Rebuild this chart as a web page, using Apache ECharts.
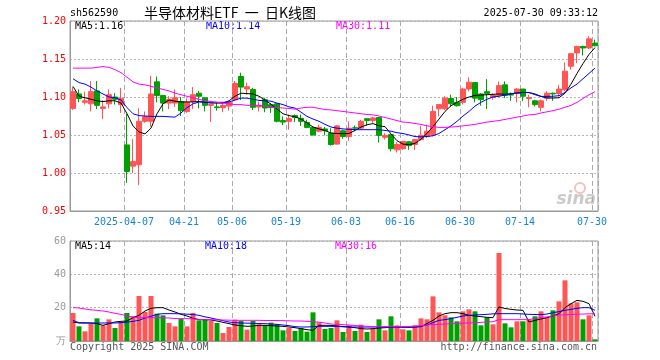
<!DOCTYPE html>
<html><head><meta charset="utf-8">
<script src="https://cdn.jsdelivr.net/npm/echarts@6/dist/echarts.min.js"></script>
<style>html,body{margin:0;padding:0;background:#fff}#c{width:660px;height:360px}</style>
</head><body><div id="c"></div>
<script>
const dates = [
'2025-03-24','2025-03-25','2025-03-26','2025-03-27','2025-03-28','2025-03-31',
'2025-04-01','2025-04-02','2025-04-03','2025-04-07','2025-04-08','2025-04-09','2025-04-10','2025-04-11',
'2025-04-14','2025-04-15','2025-04-16','2025-04-17','2025-04-18','2025-04-21','2025-04-22','2025-04-23',
'2025-04-24','2025-04-25','2025-04-28','2025-04-29','2025-04-30','2025-05-06','2025-05-07','2025-05-08',
'2025-05-09','2025-05-12','2025-05-13','2025-05-14','2025-05-15','2025-05-16','2025-05-19','2025-05-20',
'2025-05-21','2025-05-22','2025-05-23','2025-05-26','2025-05-27','2025-05-28','2025-05-29','2025-05-30',
'2025-06-03','2025-06-04','2025-06-05','2025-06-06','2025-06-09','2025-06-10','2025-06-11','2025-06-12',
'2025-06-13','2025-06-16','2025-06-17','2025-06-18','2025-06-19','2025-06-20','2025-06-23','2025-06-24',
'2025-06-25','2025-06-26','2025-06-27','2025-06-30','2025-07-01','2025-07-02','2025-07-03','2025-07-04',
'2025-07-07','2025-07-08','2025-07-09','2025-07-10','2025-07-11','2025-07-14','2025-07-15','2025-07-16',
'2025-07-17','2025-07-18','2025-07-21','2025-07-22','2025-07-23','2025-07-24','2025-07-25','2025-07-28',
'2025-07-29','2025-07-30'];

const open = [1.085,1.104,1.093,1.091,1.108,1.085,1.091,1.100,1.090,1.037,1.009,1.011,1.068,1.068,
1.120,1.102,1.092,1.092,1.094,1.081,1.094,1.105,1.099,1.089,1.087,1.086,1.088,1.0965,1.127,1.1105,
1.110,1.087,1.0965,1.090,1.091,1.069,1.068,1.0755,1.072,1.0665,1.060,1.055,1.058,1.0525,1.038,1.0555,
1.048,1.0595,1.059,1.0715,1.069,1.073,1.047,1.0505,1.0305,1.032,1.041,1.0375,1.044,1.048,1.0505,1.0845,
1.0845,1.098,1.093,1.093,1.1105,1.119,1.104,1.107,1.0995,1.102,1.116,1.1035,1.1045,1.1105,1.098,1.095,
1.0865,1.0985,1.105,1.1045,1.1095,1.1405,1.158,1.1665,1.1645,1.171];
const close = [1.107,1.098,1.095,1.107,1.089,1.087,1.103,1.097,1.098,1.002,1.015,1.068,1.074,1.104,
1.102,1.092,1.097,1.099,1.082,1.093,1.103,1.101,1.089,1.090,1.086,1.089,1.093,1.118,1.113,1.1135,
1.0865,1.088,1.0855,1.086,1.068,1.067,1.0715,1.073,1.068,1.060,1.050,1.060,1.0555,1.0375,1.062,1.048,
1.059,1.059,1.068,1.069,1.0725,1.0495,1.0495,1.032,1.0375,1.0415,1.036,1.044,1.0495,1.055,1.081,1.090,
1.0985,1.091,1.0885,1.1105,1.1195,1.0985,1.0965,1.1045,1.1025,1.115,1.102,1.1025,1.1105,1.101,1.099,1.090,
1.095,1.105,1.104,1.1105,1.134,1.157,1.1665,1.1645,1.1765,1.1675];
const low = [1.083,1.093,1.090,1.081,1.084,1.071,1.085,1.090,1.079,0.987,1.000,0.984,1.066,1.061,
1.093,1.081,1.084,1.087,1.075,1.079,1.084,1.085,1.081,1.067,1.082,1.080,1.082,1.095,1.096,1.103,
1.083,1.081,1.080,1.079,1.0665,1.063,1.057,1.067,1.062,1.059,1.0495,1.0535,1.0495,1.036,1.0375,1.045,
1.0425,1.055,1.057,1.062,1.066,1.040,1.044,1.0285,1.027,1.0305,1.0305,1.0305,1.0425,1.046,1.048,1.0745,
1.083,1.0875,1.0875,1.090,1.1075,1.093,1.0885,1.084,1.0965,1.0995,1.0985,1.095,1.093,1.0945,1.0865,1.0875,
1.081,1.095,1.095,1.101,1.1075,1.136,1.1445,1.1545,1.163,1.1665];
const high = [1.113,1.110,1.107,1.121,1.121,1.096,1.110,1.105,1.112,1.078,1.045,1.085,1.081,1.128,
1.127,1.102,1.101,1.110,1.100,1.098,1.113,1.108,1.099,1.090,1.092,1.092,1.094,1.121,1.132,1.119,
1.112,1.094,1.099,1.092,1.092,1.0745,1.077,1.077,1.077,1.070,1.061,1.0635,1.0605,1.059,1.063,1.057,
1.068,1.0625,1.070,1.0715,1.074,1.073,1.0525,1.0515,1.0405,1.0425,1.0415,1.045,1.0615,1.0635,1.0885,1.090,
1.101,1.103,1.100,1.112,1.126,1.119,1.105,1.1235,1.105,1.1205,1.1205,1.106,1.1115,1.1105,1.103,1.0965,
1.0965,1.1075,1.106,1.116,1.1455,1.157,1.1675,1.1675,1.180,1.1755];

const volume = [16.8,8.8,5.8,10.4,13.6,9.4,13.0,7.8,11.4,16.8,14.8,27.0,17.4,27.0,16.4,15.4,10.8,8.8,
13.4,8.8,16.8,12.4,12.8,12.0,10.8,4.8,8.4,12.8,12.0,6.8,12.0,10.0,9.4,11.0,10.0,6.4,7.8,6.0,7.8,5.6,
17.2,11.2,7.2,7.8,12.4,5.4,9.4,6.0,9.8,5.4,7.4,13.0,6.4,14.8,9.4,7.0,6.4,9.4,13.6,13.0,26.8,17.2,15.4,
14.2,11.8,17.8,19.0,17.8,9.4,14.2,10.0,52.8,10.6,8.2,11.8,11.8,13.0,14.8,17.8,14.2,18.4,23.8,36.4,22.6,
23.2,13.0,15.4,1.0];

const ma5 = [1.114,1.101,1.099,1.097,1.095,1.094,1.095,1.095,1.092,1.078,1.062,1.054,1.0515,1.059,1.078,
1.091,1.096,1.0945,1.0935,1.0935,1.0935,1.094,1.093,1.092,1.092,1.092,1.095,1.101,1.105,1.1045,1.104,
1.101,1.096,1.0905,1.084,1.078,1.0755,1.074,1.071,1.066,1.0605,1.058,1.056,1.0525,1.052,1.0517,1.052,
1.056,1.0605,1.0635,1.065,1.062,1.061,1.0515,1.0425,1.038,1.0373,1.039,1.0445,1.052,1.061,1.071,1.081,
1.0885,1.093,1.097,1.100,1.102,1.1025,1.103,1.1035,1.104,1.1035,1.1045,1.1053,1.106,1.1058,1.104,1.1008,
1.0987,1.0987,1.099,1.105,1.117,1.131,1.144,1.156,1.165];
const ma10 = [1.124,1.119,1.117,1.113,1.108,1.104,1.100,1.099,1.096,1.086,1.078,1.0755,1.075,1.0745,
1.0745,1.0745,1.074,1.0735,1.079,1.086,1.091,1.0935,1.093,1.093,1.093,1.093,1.0935,1.096,1.0985,1.0985,
1.097,1.0955,1.095,1.0945,1.092,1.090,1.087,1.0855,1.080,1.0745,1.071,1.068,1.064,1.0605,1.059,1.058,
1.0575,1.057,1.057,1.057,1.057,1.057,1.056,1.055,1.053,1.052,1.050,1.048,1.0475,1.048,1.049,1.052,1.057,
1.062,1.068,1.075,1.081,1.088,1.093,1.097,1.100,1.101,1.1025,1.104,1.1053,1.106,1.106,1.103,1.1008,
1.1008,1.101,1.1017,1.106,1.112,1.117,1.124,1.131,1.138];
const ma30 = [1.138,1.138,1.138,1.138,1.139,1.140,1.139,1.136,1.132,1.126,1.120,1.117,1.116,1.114,1.112,
1.110,1.108,1.105,1.103,1.101,1.099,1.097,1.095,1.094,1.093,1.092,1.091,1.090,1.090,1.089,1.089,1.089,
1.088,1.087,1.086,1.0855,1.085,1.084,1.0855,1.0865,1.0865,1.085,1.0835,1.083,1.082,1.081,1.080,1.079,
1.078,1.077,1.0765,1.075,1.073,1.071,1.069,1.067,1.0665,1.065,1.064,1.062,1.061,1.060,1.060,1.0605,
1.061,1.062,1.063,1.064,1.0655,1.067,1.068,1.069,1.0705,1.072,1.0735,1.075,1.0765,1.077,1.079,1.0805,
1.082,1.084,1.0865,1.089,1.093,1.098,1.103,1.107];

const volMa5 = [11.4,10.8,10.8,10.8,10.4,9.4,10.4,11.4,11.8,12.0,14.0,15.4,18.0,19.6,20.0,20.0,18.6,17.4,
16.0,15.0,13.6,12.8,12.8,12.6,12.0,11.2,10.4,9.6,9.2,8.8,9.0,9.4,9.4,9.2,9.0,8.8,8.4,8.0,7.4,6.8,6.4,
9.4,9.4,9.4,9.0,8.6,8.4,8.0,7.4,7.2,7.4,7.8,8.0,8.4,8.4,8.2,8.2,8.4,8.6,10.5,12.4,15.0,16.4,17.0,17.0,
16.4,15.4,15.0,14.6,14.2,14.0,20.4,19.5,19.0,18.6,18.4,11.4,12.4,13.2,14.0,15.0,16.4,20.0,22.4,24.4,
23.8,22.4,14.8];
const volMa10 = [12.4,11.0,10.9,10.8,10.8,10.8,10.8,10.8,11.0,11.3,11.8,12.4,13.8,14.8,16.0,16.4,16.4,
16.4,16.3,16.1,15.9,15.4,14.5,13.8,13.0,12.2,11.4,11.0,10.8,10.7,10.6,10.5,10.4,10.2,10.0,9.6,9.2,8.6,
8.4,8.4,8.6,8.8,8.8,8.8,8.7,8.6,8.4,8.4,8.4,8.4,8.4,8.4,8.4,8.4,8.4,8.4,8.4,8.4,8.8,9.6,11.0,12.4,12.8,
13.4,14.2,15.0,15.4,15.6,15.8,16.0,16.3,16.4,16.4,16.4,16.4,16.2,16.0,15.9,15.8,16.2,17.0,17.6,18.4,
19.0,19.6,20.0,20.0,18.4];
const volMa30 = [20.0,19.8,19.2,18.7,18.4,18.0,17.4,16.6,16.0,14.9,14.4,14.0,14.0,14.0,14.0,13.9,13.8,
13.5,13.4,13.4,13.3,13.0,12.8,12.8,12.7,12.6,12.5,12.4,12.4,12.4,12.4,12.4,12.3,12.3,12.3,12.2,12.1,
12.0,12.0,11.8,11.6,11.3,10.8,10.2,10.0,9.8,9.6,9.3,9.0,8.8,8.6,8.6,8.6,8.6,8.6,8.6,8.7,8.9,9.2,9.6,
9.8,10.0,10.2,10.4,10.6,10.7,10.8,11.0,11.2,11.4,11.6,12.8,12.8,12.8,12.8,12.8,12.8,13.6,14.0,14.5,
15.0,15.6,15.7,15.9,16.1,16.2,16.3,16.4];

const labelDates = ['2025-04-07','2025-04-21','2025-05-06','2025-05-19','2025-06-03','2025-06-16','2025-06-30','2025-07-14','2025-07-30'];

const UP = '#ff5555', DOWN = '#00a000';
const MONO = '"DejaVu Sans Mono", "Liberation Mono", monospace';
const kData = dates.map((d, i) => [open[i], close[i], low[i], high[i]]);
const volData = volume.map((v, i) => ({ value: v, itemStyle: { color: close[i] >= open[i] ? UP : DOWN } }));
const showTick = (idx, val) => labelDates.indexOf(val) >= 0;

const chart = echarts.init(document.getElementById('c'), null, { renderer: 'canvas' });
const dashV = { show: true, interval: showTick, lineStyle: { color: '#aaaaaa', type: [5, 3], width: 1 } };
const dotH = { show: true, lineStyle: { color: '#b4b4b4', type: [2, 2], width: 1 } };

chart.setOption({
  animation: false,
  backgroundColor: '#ffffff',
  grid: [
    { left: 70, top: 21, width: 528, height: 190, show: true, borderColor: '#999', borderWidth: 1 },
    { left: 70, top: 241, width: 528, height: 100, show: true, borderColor: '#999', borderWidth: 1 }
  ],
  xAxis: [
    { type: 'category', gridIndex: 0, data: dates, boundaryGap: true,
      axisLine: { lineStyle: { color: '#999' } }, axisTick: { show: false },
      axisLabel: { interval: showTick, color: '#1a84d4', fontFamily: MONO, fontSize: 10, margin: 6,
        padding: [0, 6, 0, 0],
        formatter: v => v === '2025-04-07' ? v : v.slice(5) },
      splitLine: dashV },
    { type: 'category', gridIndex: 1, data: dates, boundaryGap: true,
      axisLine: { lineStyle: { color: '#999' } }, axisTick: { show: false },
      axisLabel: { show: false }, splitLine: dashV }
  ],
  yAxis: [
    { type: 'value', gridIndex: 0, min: 0.95, max: 1.20, interval: 0.05,
      axisLine: { show: true, lineStyle: { color: '#999' } }, axisTick: { show: false },
      axisLabel: { color: '#ff0000', fontFamily: MONO, fontSize: 10, margin: 4, formatter: v => v.toFixed(2) },
      splitLine: dotH },
    { type: 'value', gridIndex: 1, min: 0, max: 60, interval: 20,
      axisLine: { show: true, lineStyle: { color: '#999' } }, axisTick: { show: false },
      axisLabel: { color: '#999999', fontFamily: MONO, fontSize: 10, margin: 4,
        formatter: v => v === 0 ? '万' : String(v) },
      splitLine: dotH }
  ],
  series: [
    { type: 'candlestick', xAxisIndex: 0, yAxisIndex: 0, data: kData, barWidth: 5,
      itemStyle: { color: UP, color0: DOWN, borderColor: UP, borderColor0: DOWN, borderWidth: 1 } },
    { type: 'line', xAxisIndex: 0, yAxisIndex: 0, data: ma5, showSymbol: false, lineStyle: { color: '#000', width: 1 } },
    { type: 'line', xAxisIndex: 0, yAxisIndex: 0, data: ma10, showSymbol: false, lineStyle: { color: '#0000ff', width: 1 } },
    { type: 'line', xAxisIndex: 0, yAxisIndex: 0, data: ma30, showSymbol: false, lineStyle: { color: '#ff00ff', width: 1 } },
    { type: 'bar', xAxisIndex: 1, yAxisIndex: 1, data: volData, barWidth: 5 },
    { type: 'line', xAxisIndex: 1, yAxisIndex: 1, data: volMa5, showSymbol: false, lineStyle: { color: '#000', width: 1 } },
    { type: 'line', xAxisIndex: 1, yAxisIndex: 1, data: volMa10, showSymbol: false, lineStyle: { color: '#0000ff', width: 1 } },
    { type: 'line', xAxisIndex: 1, yAxisIndex: 1, data: volMa30, showSymbol: false, lineStyle: { color: '#ff00ff', width: 1 } }
  ],
  graphic: [
    { type: 'text', left: 70, top: 8, style: { text: 'sh562590', font: '10px ' + MONO, fill: '#000' } },
    { type: 'text', style: { x: 230, y: 13, text: '半导体材料ETF  一  日K线图', textAlign: 'center', textVerticalAlign: 'middle',
      font: '14px "Noto Sans CJK SC"', fill: '#000' } },
    { type: 'text', style: { x: 598, y: 13, text: '2025-07-30 09:33:12', textAlign: 'right', textVerticalAlign: 'middle', font: '10px ' + MONO, fill: '#000' } },
    { type: 'text', style: { x: 75, y: 26, text: 'MA5:1.16', textVerticalAlign: 'middle', font: '10px ' + MONO, fill: '#000' } },
    { type: 'text', style: { x: 206, y: 26, text: 'MA10:1.14', textVerticalAlign: 'middle', font: '10px ' + MONO, fill: '#0000ff' } },
    { type: 'text', style: { x: 336, y: 26, text: 'MA30:1.11', textVerticalAlign: 'middle', font: '10px ' + MONO, fill: '#ff00ff' } },
    { type: 'text', style: { x: 75, y: 246, text: 'MA5:14', textVerticalAlign: 'middle', font: '10px ' + MONO, fill: '#000' } },
    { type: 'text', style: { x: 205, y: 246, text: 'MA10:18', textVerticalAlign: 'middle', font: '10px ' + MONO, fill: '#0000ff' } },
    { type: 'text', style: { x: 335, y: 246, text: 'MA30:16', textVerticalAlign: 'middle', font: '10px ' + MONO, fill: '#ff00ff' } },
    { type: 'text', style: { x: 70, y: 347, text: 'Copyright 2025 SINA.COM', textVerticalAlign: 'middle', font: '10px ' + MONO, fill: '#555' } },
    { type: 'text', style: { x: 597, y: 347, text: 'http://finance.sina.com.cn', textAlign: 'right', textVerticalAlign: 'middle', font: '10px ' + MONO, fill: '#555' } },
    { type: 'circle', shape: { cx: 580, cy: 188, r: 5 }, style: { fill: 'none', stroke: 'rgba(240,150,150,0.6)', lineWidth: 2 }, z: 0 },
    { type: 'text', style: { x: 596, y: 200, text: 'sina', textAlign: 'right', textVerticalAlign: 'middle',
      font: 'italic bold 17px "DejaVu Sans"', fill: 'rgba(180,180,180,0.7)' }, z: 0 }
  ]
});
</script>
</body></html>
